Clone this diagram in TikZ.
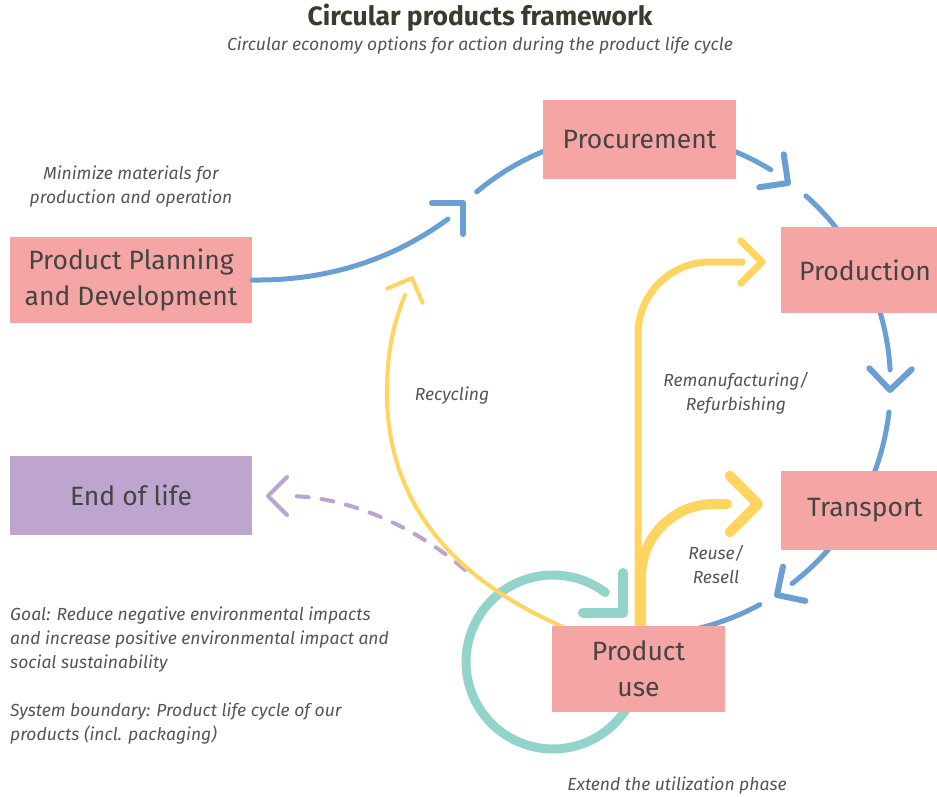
\documentclass[tikz,border=0pt]{standalone}
\usepackage{fontspec}
\setmainfont{Fira Sans}
\usetikzlibrary{calc}
\definecolor{bluec}{HTML}{6A9FD4}
\definecolor{yelc}{HTML}{FFD560}
\definecolor{tealc}{HTML}{93D4CA}
\definecolor{purpc}{HTML}{BCA4CF}
\definecolor{pinkbox}{HTML}{F6A5A5}
\definecolor{purpbox}{HTML}{BDA5CF}
\definecolor{txtc}{HTML}{444444}
\definecolor{ittc}{HTML}{555555}
\definecolor{titc}{HTML}{3C3A2F}
\newcommand\chev[4]{\draw[#4] ($(#1)+(#2+135:#3)$) -- (#1) -- ($(#1)+(#2+225:#3)$);}
\newcommand\ringarc[6]{\draw[#6] plot[domain=#4:#5,samples=50,smooth] ({#1+#3*cos(\x)},{#2+#3*sin(\x)});}
\begin{document}
\begin{tikzpicture}[x=1pt,y=-1pt,
  box/.style={fill=pinkbox, draw=none, text=txtc, font=\fontsize{26.5}{36}\selectfont, align=center, inner sep=0pt},
  itl/.style={text=ittc, font=\fontsize{17.5}{24}\selectfont\itshape, inner sep=0pt},
  blueln/.style={draw=bluec, line width=5pt, line cap=round, line join=round},
  bluechev/.style={draw=bluec, line width=6pt, line cap=round, line join=round},
  yelln/.style={draw=yelc, line cap=round, line join=round},
  tealln/.style={draw=tealc, line width=9pt, line cap=round, line join=round},
  purpln/.style={draw=purpc, line width=4pt, line cap=round, line join=round}]
\useasboundingbox (0,0) rectangle (937,797);
\fill[white] (0,0) rectangle (937,797);
% title
\node[text=titc, font=\fontsize{26.5}{30}\selectfont\bfseries, inner sep=0pt] (title) at (480,18) {Circular products framework};
\node[itl] (subtitle) at (480,46) {Circular economy options for action during the product life cycle};
% blue cycle
\coordinate (C) at (639,384);
\ringarc{639}{384}{251.5}{229.8}{256}{blueln}
\ringarc{639}{384}{251.5}{286}{301.6}{blueln}
\ringarc{639}{384}{251.5}{311.6}{330}{blueln}
\ringarc{639}{384}{251.5}{340}{356.8}{blueln}
\ringarc{639}{384}{251.5}{6.4}{25}{blueln}
\ringarc{639}{384}{251.5}{38}{52.5}{blueln}
\ringarc{639}{384}{251.5}{61.3}{80}{blueln}
\coordinate (bt1) at (788,183);
\coordinate (bt2) at (890,390);
\coordinate (bt3) at (777,595);
\chev{bt1}{36.6}{29}{bluechev}
\chev{bt2}{91.4}{30}{bluechev}
\chev{bt3}{146.8}{29}{bluechev}
% teal loop
\ringarc{553}{662}{87}{30}{307}{tealln}
\coordinate (tt) at (623,613);
\chev{tt}{45}{40}{tealln, line width=10pt}
% purple dashed
\coordinate (pt) at (268,496);
\draw[purpln, dash pattern=on 12pt off 13pt] (465,570) .. controls (420,530) and (350,496) .. (288,496);
\chev{pt}{180}{27}{purpln}
% boxes
\node[box, minimum width=193pt, minimum height=79pt] (proc) at (639.5,139.5) {Procurement};
\node[box, minimum width=168pt, minimum height=86pt] (prod) at (865,270) {Production};
\node[box, minimum width=168pt, minimum height=79pt] (trans) at (865,510.5) {Transport};
\node[box, minimum width=242pt, minimum height=86pt] (plan) at (131,280) {Product Planning\\and Development};
\node[box, fill=purpbox, minimum width=242pt, minimum height=79pt] (eol) at (131,495.5) {End of life};
% yellow arrows (drawn before product use box)
\coordinate (yt1) at (412,278);
\coordinate (yt2) at (762,262);
\coordinate (yt3) at (758,504);
\draw[yelln, line width=4pt] (575,632) .. controls (460,585) and (390,510) .. (387,400) .. controls (386,350) and (395,320) .. (405,295);
\chev{yt1}{292}{27}{yelln, line width=4pt}
\draw[yelln, line width=7pt, rounded corners=72pt] (638,640) -- (638,262) -- (742,262);
\chev{yt2}{0}{30}{yelln, line width=7pt}
\draw[yelln, line width=10pt, rounded corners=73pt] (641,640) -- (641,504) -- (727,504);
\chev{yt3}{0}{40}{yelln, line width=10pt}
\node[box, minimum width=173pt, minimum height=86pt] (use) at (638.5,669) {Product\\use};
% planning to procurement
\coordinate (pp) at (463,203);
\draw[blueln] (plan.east) .. controls (330,281) and (395,258) .. (448,219);
\chev{pp}{315}{31}{bluechev}
% labels
\node[itl, align=center] (minlbl) at (131,187) {\fontsize{17.5}{26}\selectfont Minimize materials for\\production and operation};
\node[itl] (reclbl) at (452,396) {Recycling};
\node[itl, align=center] (remlbl) at (736,393) {Remanufacturing/\\Refurbishing};
\node[itl, align=center] (reulbl) at (716,565) {Reuse/\\Resell};
\node[itl, align=left, anchor=west] (goal) at (10,640) {Goal: Reduce negative environmental impacts\\and increase positive environmental impact and\\social sustainability};
\node[itl, align=left, anchor=west] (sysb) at (10,724) {System boundary: Product life cycle of our\\products (incl. packaging)};
\node[itl] (ext) at (677,786) {Extend the utilization phase};
\end{tikzpicture}
\end{document}
